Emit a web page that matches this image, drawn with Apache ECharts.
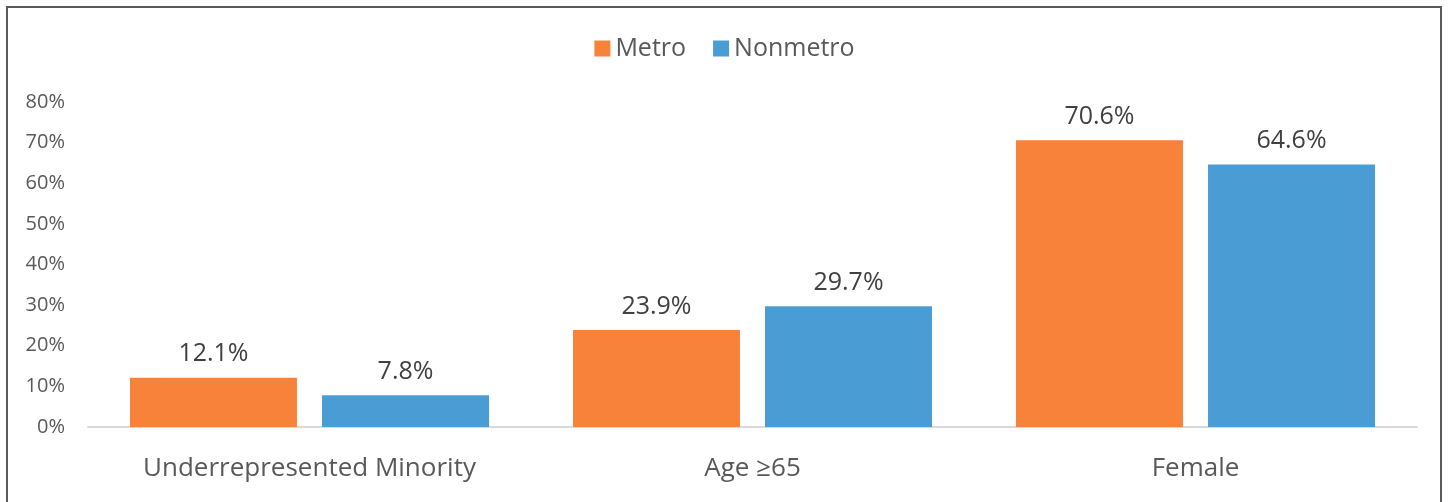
<!DOCTYPE html>
<html>
<head>
<meta charset="utf-8">
<script src="https://cdn.jsdelivr.net/npm/echarts@6/dist/echarts.min.js"></script>
<style>
  html, body { margin: 0; padding: 0; background: #fff; }
  .frame {
    position: absolute; left: 6px; top: 6px; width: 1436px; height: 500px;
    border: 2px solid #595959; border-bottom: none; box-sizing: border-box;
  }
  #chart { position: absolute; left: 0; top: 0; width: 1449px; height: 502px; }
</style>
</head>
<body>
<div class="frame"></div>
<div id="chart"></div>
<script>
var categories = ["Underrepresented Minority", "Age \u226565", "Female"];
var metro = [12.1, 23.9, 70.6];
var nonmetro = [7.8, 29.7, 64.6];
var yTicks = [0, 10, 20, 30, 40, 50, 60, 70, 80];

var chartDom = document.getElementById("chart");
var myChart = echarts.init(chartDom);
var font = "Open Sans, sans-serif";

var labelStyle = {
  show: true,
  position: "top",
  distance: 11,
  fontSize: 25,
  color: "#404040",
  fontFamily: font,
  formatter: function (p) { return p.value.toFixed(1) + "%"; }
};

var option = {
  animation: false,
  legend: {
    top: 31,
    left: "center",
    itemWidth: 16,
    itemHeight: 16,
    itemGap: 27,
    icon: "rect",
    textStyle: { fontSize: 25, color: "#595959", fontFamily: font }
  },
  grid: { left: 88, right: 32, top: 102, bottom: 75 },
  xAxis: {
    type: "category",
    data: categories,
    axisLine: { lineStyle: { color: "#d9d9d9", width: 2 } },
    axisTick: { show: false },
    axisLabel: { fontSize: 26, color: "#595959", margin: 29, fontFamily: font }
  },
  yAxis: {
    type: "value",
    min: yTicks[0],
    max: yTicks[yTicks.length - 1],
    interval: 10,
    splitLine: { show: false },
    axisLine: { show: false },
    axisTick: { show: false },
    axisLabel: {
      fontSize: 20, color: "#595959", margin: 23, fontFamily: font,
      formatter: "{value}%"
    }
  },
  series: [
    {
      name: "Metro",
      type: "bar",
      data: metro,
      barWidth: 167,
      barGap: "15%",
      itemStyle: { color: "#f9823a" },
      label: labelStyle
    },
    {
      name: "Nonmetro",
      type: "bar",
      data: nonmetro,
      barWidth: 167,
      barGap: "15%",
      itemStyle: { color: "#4a9cd4" },
      label: labelStyle
    }
  ]
};
myChart.setOption(option);
</script>
</body>
</html>
